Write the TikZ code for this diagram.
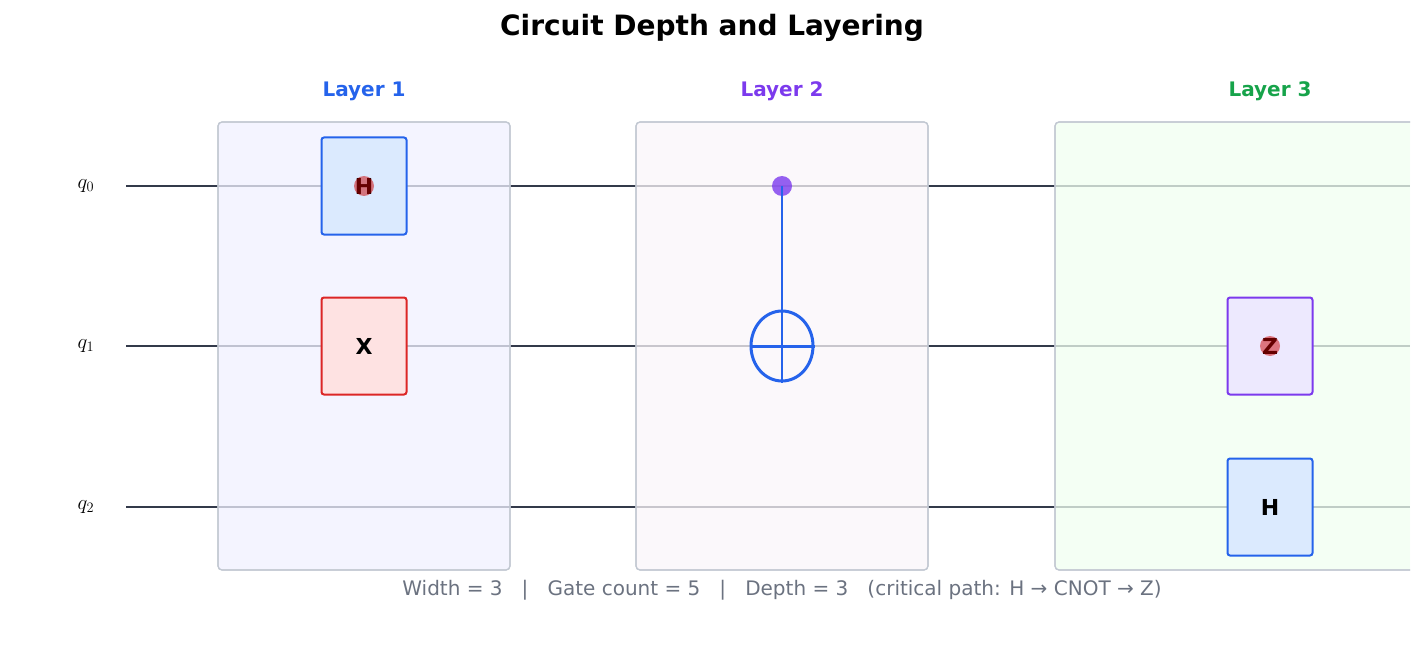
\documentclass[tikz,border=0pt]{standalone}
\usepackage{fontspec}
\setmainfont{DejaVu Sans}
\usepackage{tikz}
\usetikzlibrary{calc, shapes.geometric}

\definecolor{wire}{HTML}{333A4A}
\definecolor{boxline}{HTML}{C2C8D2}
\definecolor{blueline}{HTML}{2563EB}
\definecolor{bluefill}{HTML}{DBEAFE}
\definecolor{redline}{HTML}{DC2626}
\definecolor{redfill}{HTML}{FEE2E2}
\definecolor{purpline}{HTML}{7C3AED}
\definecolor{purpfill}{HTML}{EDE9FE}
\definecolor{greenline}{HTML}{16A34A}
\definecolor{greytext}{HTML}{6B7280}

\tikzset{
  layerbox/.style={draw=boxline, line width=1.2pt, rounded corners=4pt, fill opacity=0.75},
  gatebox/.style={draw=#1line, fill=#1fill, line width=2pt, rounded corners=2.5pt,
    minimum width=85pt, minimum height=97pt, font=\bfseries\fontsize{22}{22}\selectfont},
  hotdot/.style={circle, fill=red!80!black, fill opacity=0.5, inner sep=0pt, minimum size=20pt},
  layerlabel/.style={font=\bfseries\fontsize{20}{20}\selectfont}
}

\begin{document}
\begin{tikzpicture}[x=1pt,y=-1pt]
        \useasboundingbox (0,0) rectangle (1425,650);
        \clip (0,0) rectangle (1410,650);

        \node[font=\bfseries\fontsize{28}{28}\selectfont] (title) at (712,28) {Circuit Depth and Layering};

        % wires
        \foreach \q/\y in {0/186, 1/346, 2/507} {
          \coordinate (w\q s) at (126,\y);
          \coordinate (w\q e) at (1410,\y);
          \node[font=\fontsize{21}{21}\selectfont] (lab\q) at (86,\y) {$q_{\q}$};
          \draw[wire, line width=2.5pt] (w\q s) -- (w\q e);
        }

        % layers
        \fill[layerbox, fill=blue!6] (218,122) rectangle (510,570);
        \draw[layerbox] (218,122) rectangle (510,570);
        \fill[layerbox, fill=violet!4] (636,122) rectangle (928,570);
        \draw[layerbox] (636,122) rectangle (928,570);
        \fill[layerbox, fill=green!6] (1055,122) rectangle (1440,570);
        \draw[layerbox] (1055,122) rectangle (1440,570);

        \node[layerlabel, blueline] (L1) at (364,91) {Layer 1};
        \node[layerlabel, purpline] (L2) at (782,91) {Layer 2};
        \node[layerlabel, greenline] (L3) at (1270,91) {Layer 3};

        % layer 1
        \node[gatebox=blue] (h0) at (364,186) {H};
        \node[hotdot] at (h0.center) {};
        \node[gatebox=red] (x1) at (364,346) {X};

        % layer 2
        \node[circle, fill=purpline, fill opacity=0.8, inner sep=0pt, minimum size=20pt] (ctrl) at (782,186) {};
        \node[ellipse, draw=blueline, line width=3pt, minimum width=62pt, minimum height=70pt, inner sep=0pt] (targ) at (782,346) {};
        \draw[blueline, line width=2.5pt] (ctrl.center) -- (targ.south);
        \draw[blueline, line width=3pt] (targ.west) -- (targ.east);

        % layer 3
        \node[gatebox=purp] (z1) at (1270,346) {Z};
        \node[hotdot] at (z1.center) {};
        \node[gatebox=blue] (h2) at (1270,507) {H};

        \node[greytext, font=\fontsize{20}{20}\selectfont] (info) at (782,590)
          {Width = 3 \ \ | \ \ Gate count = 5 \ \ | \ \ Depth = 3 \ \ (critical path: H → CNOT → Z)};
\end{tikzpicture}
\end{document}
